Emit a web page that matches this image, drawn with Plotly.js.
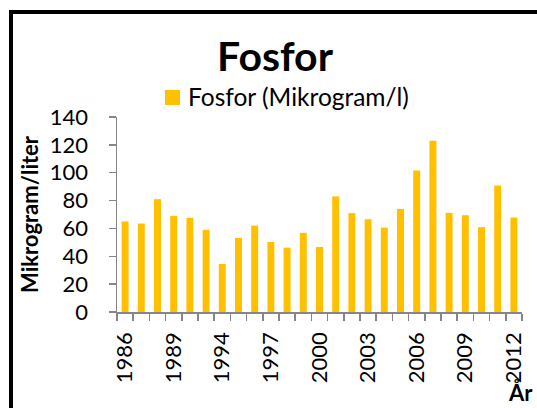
<!DOCTYPE html>
<html>
<head>
<meta charset="utf-8">
<script src="https://cdn.plot.ly/plotly-3.0.1.min.js"></script>
<style>
html,body{margin:0;padding:0;background:#fff;overflow:hidden;}
#wrap{position:relative;width:537px;height:408px;overflow:hidden;}
#frame{position:absolute;left:9px;top:10px;width:700px;height:600px;border:4px solid #000;box-sizing:border-box;}
#chart{position:absolute;left:0;top:0;width:537px;height:408px;}
</style>
</head>
<body>
<div id="wrap"><div id="frame"></div><div id="chart"></div></div>
<script>
const years = ["1986","1987","1988","1989","1990","1992","1994","1995","1996","1997","1998","1999","2000","2001","2002","2003","2004","2005","2006","2007","2008","2009","2010","2011","2012"];
const fosfor = [65, 63.5, 81, 69, 67.6, 59, 34.5, 53.2, 62, 50.3, 46.2, 56.8, 46.7, 83, 71, 66.6, 60.6, 74, 101.6, 123, 71.2, 69.5, 60.9, 90.8, 67.8];
const tickLabels = years.map((y, i) => (i % 3 === 0 ? y : ""));
const yTicks = [0, 20, 40, 60, 80, 100, 120, 140];

const FONT = "Lato, 'Open Sans', sans-serif";
const W = 537, H = 408;
const M = {l: 117, r: 15, t: 117, b: 96};
const pw = W - M.l - M.r, ph = H - M.t - M.b;
const px = x => (x - M.l) / pw;
const py = y => (H - M.b - y) / ph;

const trace = {
  type: "bar",
  x: years,
  y: fosfor,
  name: "Fosfor (Mikrogram/l)",
  marker: {color: "#FFC000", line: {width: 0}},
  hoverinfo: "x+y"
};

const layout = {
  width: W, height: H,
  margin: M,
  paper_bgcolor: "rgba(0,0,0,0)",
  plot_bgcolor: "rgba(0,0,0,0)",
  showlegend: false,
  bargap: 0.57,
  font: {family: FONT, color: "#000", size: 22},
  title: {
    text: "<b>Fosfor</b>",
    font: {family: FONT, size: 41, color: "#000"},
    xref: "container", yref: "container",
    x: 275 / W, y: 1 - 57 / H, xanchor: "center", yanchor: "middle"
  },
  xaxis: {
    type: "category",
    tickmode: "array",
    tickvals: years,
    ticktext: tickLabels,
    tickangle: -90,
    tickson: "boundaries",
    ticks: "outside",
    ticklen: 7,
    tickwidth: 1.5,
    tickcolor: "#868686",
    showline: true,
    linecolor: "#868686",
    linewidth: 1.5,
    showgrid: false,
    zeroline: false,
    ticklabelstandoff: 10,
    tickfont: {family: FONT, size: 22, color: "#000"},
    range: [-0.5, years.length - 0.5],
    fixedrange: true
  },
  yaxis: {
    range: [0, 140],
    tickmode: "array",
    tickvals: yTicks,
    ticks: "outside",
    ticklen: 7,
    tickwidth: 1.5,
    tickcolor: "#868686",
    showline: true,
    linecolor: "#868686",
    linewidth: 1.5,
    showgrid: false,
    zeroline: false,
    ticklabelstandoff: 16,
    tickfont: {family: FONT, size: 22, color: "#000"},
    title: {text: "<b>Mikrogram/liter</b>", font: {family: FONT, size: 22, color: "#000"}, standoff: 5},
    fixedrange: true
  },
  shapes: [{
    type: "rect", xref: "paper", yref: "paper",
    x0: px(165), x1: px(180), y0: py(105), y1: py(90),
    fillcolor: "#FFC000", line: {width: 0}
  }],
  annotations: [
    {
      text: "Fosfor (Mikrogram/l)", xref: "paper", yref: "paper",
      x: px(186), y: py(97), xanchor: "left", yanchor: "middle",
      showarrow: false, font: {family: FONT, size: 24.5, color: "#000"}
    },
    {
      text: "<b>År</b>", xref: "paper", yref: "paper",
      x: px(506), y: py(392), xanchor: "left", yanchor: "middle",
      showarrow: false, font: {family: FONT, size: 22, color: "#000"}
    }
  ]
};

Plotly.newPlot("chart", [trace], layout, {displayModeBar: false, staticPlot: true});
</script>
</body>
</html>
